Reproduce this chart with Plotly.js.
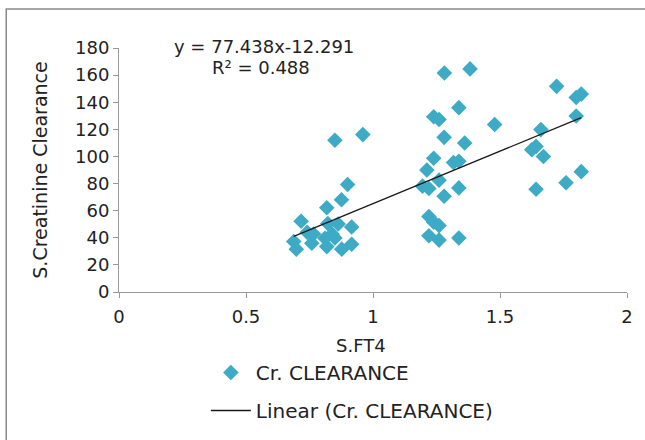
<!DOCTYPE html>
<html>
<head>
<meta charset="utf-8">
<script src="https://cdn.plot.ly/plotly-3.0.1.min.js"></script>
<style>html,body{margin:0;padding:0;background:#fff;}#chart{width:645px;height:440px;}</style>
</head>
<body>
<div id="chart"></div>
<script>
// S.FT4 values
const ft4 = [0.688, 0.698, 0.717, 0.741, 0.759, 0.766, 0.818, 0.822, 0.811, 0.818, 0.839, 0.850, 0.863, 0.850, 0.876, 0.900, 0.916, 0.916, 0.877, 0.960,
  1.281, 1.382, 1.338, 1.239, 1.260, 1.280, 1.361, 1.239, 1.212, 1.317, 1.338, 1.260, 1.195, 1.220, 1.280, 1.338, 1.220, 1.239, 1.260, 1.220, 1.260, 1.338, 1.479,
  1.723, 1.800, 1.820, 1.800, 1.661, 1.625, 1.642, 1.671, 1.820, 1.760, 1.642];
// S.Creatinine Clearance values
const crClearance = [37.3, 31.6, 52.2, 44.0, 36.0, 42.8, 62.2, 50.5, 39.6, 33.5, 42.8, 39.8, 50.2, 111.9, 68.1, 79.3, 48.0, 35.2, 31.6, 116.1,
  161.6, 164.6, 136.0, 129.3, 127.3, 114.1, 109.9, 98.7, 90.0, 95.5, 96.5, 82.5, 78.1, 76.3, 70.6, 76.8, 55.7, 51.5, 49.0, 41.5, 38.3, 39.8, 123.6,
  151.7, 143.5, 146.0, 129.8, 119.8, 104.9, 107.4, 100.0, 88.8, 80.6, 75.8];
const slope = 77.438, intercept = -12.291;
const xTicks = [0, 0.5, 1, 1.5, 2];
const yTicks = [0, 20, 40, 60, 80, 100, 120, 140, 160, 180];

const xMin = Math.min(...ft4), xMax = Math.max(...ft4);
const lineX = [xMin, xMax];
const lineY = lineX.map(v => slope * v + intercept);

const FONT = 'DejaVu Sans, Liberation Sans, Arial, sans-serif';
const traces = [
  {x: ft4, y: crClearance, type: 'scatter', mode: 'markers', name: 'Cr. CLEARANCE',
   legendgroup: 'a', cliponaxis: false,
   marker: {symbol: 'diamond', size: 12, color: '#3DAAC6', line: {width: 0}}},
  {x: lineX, y: lineY, type: 'scatter', mode: 'lines', name: 'Linear (Cr. CLEARANCE)',
   legendgroup: 'b', line: {color: '#1a1a1a', width: 1.3}}
];
const layout = {
  width: 645, height: 440,
  margin: {l: 119, r: 18, t: 48, b: 148, autoexpand: false},
  paper_bgcolor: '#fff', plot_bgcolor: '#fff',
  font: {family: FONT, size: 17, color: '#222'},
  showlegend: true,
  legend: {x: 0.171, y: -0.25, xanchor: 'left', yanchor: 'top', traceorder: 'grouped', tracegroupgap: 9,
           itemwidth: 40, font: {family: FONT, size: 20, color: '#222'}, bgcolor: 'rgba(0,0,0,0)'},
  xaxis: {range: [0, 2], tickvals: xTicks, ticktext: xTicks.map(String), showgrid: false, zeroline: false,
          showline: true, linecolor: '#999', linewidth: 1, ticks: 'outside', ticklen: 5, tickcolor: '#999',
          tickfont: {size: 18}, ticklabelstandoff: 3},
  yaxis: {range: [0, 180], tickvals: yTicks, ticktext: yTicks.map(String), showgrid: false, zeroline: false,
          showline: true, linecolor: '#999', linewidth: 1, ticks: 'outside', ticklen: 5, tickcolor: '#999',
          tickfont: {size: 18}, title: {text: 'S.Creatinine Clearance', font: {size: 19}, standoff: 22}},
  annotations: [
    {xref: 'paper', yref: 'paper', x: 0.285, y: 1.008, text: 'y = 77.438x-12.291', showarrow: false,
     font: {size: 18, color: '#222'}, xanchor: 'center', yanchor: 'middle'},
    {xref: 'paper', yref: 'paper', x: 0.280, y: 0.922, text: 'R² = 0.488', showarrow: false,
     font: {size: 18, color: '#222'}, xanchor: 'center', yanchor: 'middle'},
    {xref: 'paper', yref: 'paper', x: (361 - 119) / 508, y: (292 - 345) / 244, text: 'S.FT4', showarrow: false,
     font: {size: 18, color: '#222'}, xanchor: 'center', yanchor: 'middle'}
  ],
  shapes: [
    {type: 'rect', xref: 'paper', yref: 'paper', x0: -0.222, x1: 1.05, y0: -0.62, y1: 1.16,
     line: {color: '#8a8a8a', width: 1.5}, fillcolor: 'rgba(0,0,0,0)', layer: 'below'}
  ]
};
Plotly.newPlot('chart', traces, layout, {displayModeBar: false, staticPlot: true});
</script>
</body>
</html>
